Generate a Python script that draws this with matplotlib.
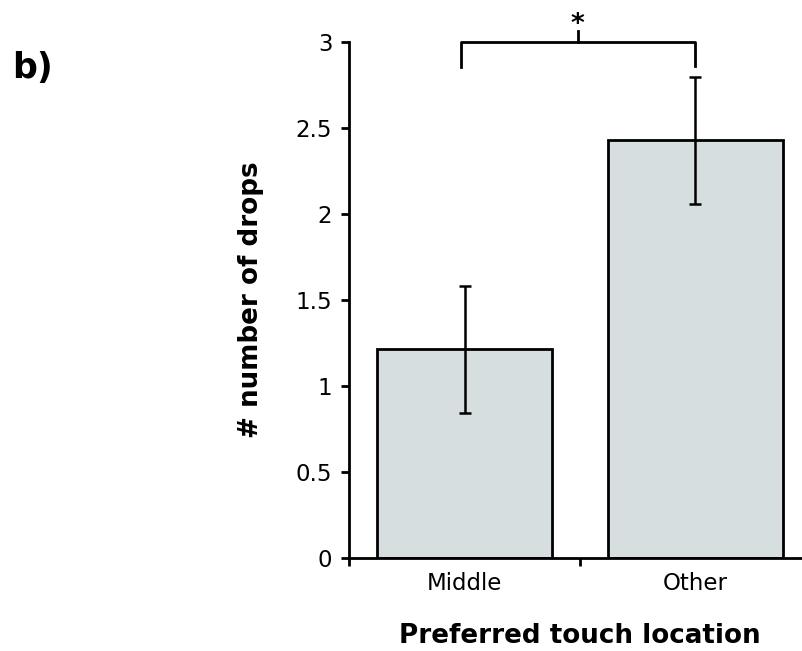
import matplotlib
matplotlib.use("Agg")
import matplotlib.pyplot as plt

# data
categories = ["Middle", "Other"]
mean_drops = [1.215, 2.43]
err_low = [0.37, 0.37]
err_high = [0.365, 0.365]
yticks = [0, 0.5, 1, 1.5, 2, 2.5, 3]
ytick_labels = ["0", "0.5", "1", "1.5", "2", "2.5", "3"]

plt.rcParams["font.family"] = ["DejaVu Sans"]

fig = plt.figure(figsize=(8.02, 6.51), dpi=100)
ax = fig.add_axes([0.4352, 0.1429, 0.576, 0.7926])

x = list(range(len(categories)))
ax.bar(x, mean_drops, width=0.76, color="#d6dee0", edgecolor="black",
       linewidth=2.0, zorder=2)
ax.errorbar(x, mean_drops, yerr=[err_low, err_high], fmt="none",
            ecolor="black", elinewidth=1.8, capsize=4.5, capthick=1.8,
            zorder=3)

ax.set_xlim(-0.5, 1.5)
ax.set_ylim(0, 3)
ax.set_yticks(yticks)
ax.set_yticklabels(ytick_labels)
ax.set_xticks(x)
ax.set_xticklabels(categories)
ax.set_xticks([-0.5, 0.5, 1.5], minor=True)
ax.tick_params(axis="x", which="major", length=0, pad=10, labelsize=16.5)
ax.tick_params(axis="x", which="minor", length=6, width=2, direction="out")
ax.tick_params(axis="y", length=6, width=2, direction="out", labelsize=16.5,
               pad=6)

for side in ["top", "right"]:
    ax.spines[side].set_visible(False)
for side in ["left", "bottom"]:
    ax.spines[side].set_linewidth(2)

ax.set_xlabel("Preferred touch location", fontsize=18.8, fontweight="bold",
              labelpad=20)
ax.set_ylabel("# number of drops", fontsize=18.8, fontweight="bold",
              labelpad=23)

# significance bracket
ax.plot([-0.015, -0.015, 1, 1], [2.855, 3.0, 3.0, 2.86], color="black",
        lw=2, clip_on=False, zorder=4)
ax.plot([0.49, 0.49], [3.0, 3.064], color="black", lw=2, clip_on=False)
ax.text(0.49, 3.1, "*", ha="center", va="center", fontsize=19,
        fontweight="bold")

fig.text(0.015, 0.895, "b)", fontsize=25, fontweight="bold", va="center")

fig.savefig("out.png", dpi=100)
